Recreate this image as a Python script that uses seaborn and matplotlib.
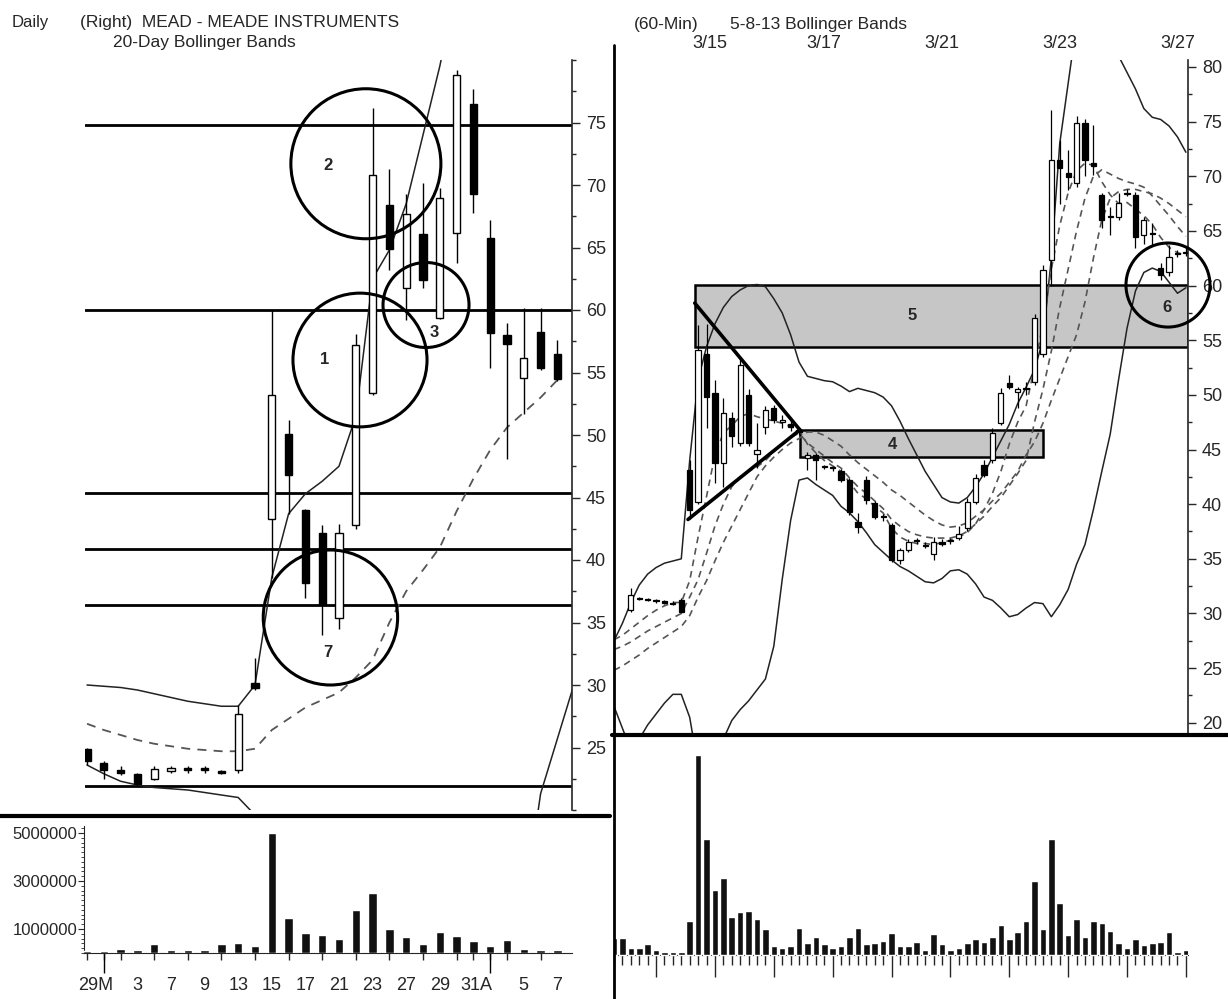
import numpy as np
import matplotlib.pyplot as plt
import seaborn as sns
from matplotlib.patches import Ellipse, Rectangle
from matplotlib.lines import Line2D
from matplotlib.ticker import MultipleLocator

sns.set_style("ticks")
plt.rcParams['font.family'] = ['Liberation Sans', 'DejaVu Sans']

nan = np.nan

# ---- Daily chart (left) ----
day_open = [24.9, 23.8, 23.2, 22.9, 22.5, 23.1, 23.4, 23.4, 23.1, 23.2, 30.2, 43.3, 50.1, 44.0, 42.2,
            35.4, 42.8, 53.4, 68.4, 61.8, 66.1, 59.4, 66.2, 76.5, 65.8, 58.0, 54.6, 58.2, 56.5]
day_high = [25.0, 23.9, 23.5, 23.0, 23.5, 23.5, 23.5, 23.5, 23.2, 28.4, 32.2, 60.0, 51.2, 44.1, 42.8,
            42.9, 58.1, 76.2, 71.3, 69.3, 70.2, 69.8, 79.2, 77.7, 67.2, 59.0, 60.2, 60.2, 57.6]
day_low = [23.6, 22.5, 22.8, 21.9, 22.4, 23.0, 23.0, 23.0, 22.9, 23.0, 29.6, 38.6, 43.7, 37.0, 34.0,
           34.5, 42.5, 53.2, 63.2, 59.2, 61.8, 59.3, 63.8, 67.8, 55.4, 48.1, 51.7, 55.2, 54.3]
day_close = [23.9, 23.2, 23.0, 22.1, 23.3, 23.4, 23.2, 23.2, 23.0, 27.7, 29.8, 53.2, 46.8, 38.2, 36.5,
             42.2, 57.2, 70.8, 64.9, 67.7, 62.4, 69.0, 78.8, 69.3, 58.2, 57.3, 56.2, 55.4, 54.5]
day_upper = [30.0, 29.9, 29.8, 29.6, 29.3, 29.0, 28.7, 28.5, 28.3, 28.3, 30.0, 38.6, 43.7, 45.3, 46.3,
             47.5, 51.5, 62.5, 64.8, 68.5, 74.0, 79.5, 86.0, 90.0, 92.0, 93.0, 93.0, 93.0, 93.0]
day_mid = [26.9, 26.4, 26.0, 25.6, 25.3, 25.1, 24.9, 24.8, 24.7, 24.7, 24.9, 26.4, 27.3, 28.2, 28.8,
           29.4, 30.6, 32.0, 35.0, 37.5, 39.2, 41.0, 43.9, 46.5, 48.8, 50.6, 51.8, 53.0, 54.4]
day_lower = [23.6, 22.9, 22.3, 22.0, 21.8, 21.7, 21.6, 21.4, 21.2, 21.0, 19.6, 12.0, 12.0, 12.0, 12.0,
             12.0, 12.0, 12.0, 12.0, 12.0, 12.0, 12.0, 12.0, 12.0, 12.0, 12.0, 12.0, 21.3, 25.7, 30.1]
day_volume = [0.08, 0.08, 0.18, 0.11, 0.36, 0.11, 0.11, 0.11, 0.36, 0.42, 0.29, 5.0, 1.45, 0.84, 0.77,
              0.6, 1.8, 2.5, 1.02, 0.67, 0.36, 0.88, 0.72, 0.49, 0.29, 0.53, 0.18, 0.14, 0.14]
day_levels = [74.8, 60.0, 45.4, 40.9, 36.4, 21.9]
day_label_pos = [0.5, 3, 5, 7, 9, 11, 13, 15, 17, 19, 21, 23.2, 26, 28]
day_labels = ['29M', '3', '7', '9', '13', '15', '17', '21', '23', '27', '29', '31A', '5', '7']
day_month_ticks = [1, 24]

# ---- 60-min chart (right) ----
hr_open = [nan, nan, 30.3, 31.4, 31.3, 31.2, 31.1, 31.0, 31.2, 43.1,
           40.2, 53.7, 50.2, 43.8, 47.9, 45.6, 50.0, 44.6, 47.1, 48.8,
           47.5, 47.3, 46.8, 44.2, 44.5, 43.5, 43.4, 43.0, 42.2, 38.4,
           42.2, 40.1, 38.9, 38.1, 34.9, 35.8, 36.7, 36.3, 35.4, 36.5,
           36.7, 36.9, 37.8, 40.2, 43.6, 44.0, 47.4, 51.1, 50.3, 50.6,
           51.2, 53.7, 62.3, 71.5, 70.3, 69.4, 74.9, 71.2, 68.3, 66.4,
           66.3, 68.5, 68.3, 64.6, 64.8, 61.6, 61.2, 63.0, 63.1]
hr_high = [nan, nan, 32.3, 31.5, 31.4, 31.3, 31.2, 31.1, 31.4, 44.0,
           56.4, 56.5, 51.4, 49.7, 48.4, 53.5, 50.5, 47.4, 49.0, 49.1,
           48.2, 47.8, 47.0, 44.8, 44.7, 43.6, 43.5, 43.2, 42.4, 39.2,
           42.6, 40.3, 39.1, 38.3, 36.0, 36.8, 36.9, 36.5, 37.0, 36.8,
           36.9, 38.0, 40.6, 42.8, 44.0, 47.0, 50.6, 51.8, 50.7, 51.2,
           57.4, 61.9, 76.1, 73.3, 72.4, 75.5, 75.2, 74.7, 68.5, 67.2,
           68.5, 68.8, 68.6, 66.3, 65.7, 62.1, 63.7, 63.3, 63.5]
hr_low = [nan, nan, 30.1, 31.2, 31.1, 31.0, 30.9, 30.8, 30.0, 38.6,
          40.0, 47.0, 41.9, 41.6, 45.2, 45.3, 45.3, 43.3, 46.4, 47.4,
          47.0, 46.7, 46.3, 43.1, 42.2, 43.2, 43.0, 42.0, 39.0, 37.4,
          40.0, 38.6, 38.5, 34.7, 34.5, 35.6, 36.4, 36.0, 34.9, 36.2,
          36.4, 36.7, 37.5, 40.0, 42.5, 43.8, 47.2, 50.5, 48.8, 50.0,
          50.9, 53.5, 60.0, 67.5, 68.7, 69.0, 70.0, 70.1, 65.3, 64.6,
          66.0, 68.2, 63.4, 63.8, 63.7, 60.5, 60.9, 62.6, 62.7]
hr_close = [nan, nan, 31.7, 31.3, 31.2, 31.1, 31.0, 30.9, 30.1, 39.5,
            54.1, 49.8, 43.8, 48.3, 46.2, 52.7, 45.6, 45.0, 48.6, 47.7,
            47.7, 47.1, 46.6, 44.5, 44.0, 43.4, 43.3, 42.2, 39.3, 37.9,
            40.4, 38.8, 38.8, 34.9, 35.8, 36.5, 36.6, 36.2, 36.5, 36.4,
            36.6, 37.3, 40.2, 42.4, 42.7, 46.5, 50.2, 50.7, 50.5, 50.5,
            57.0, 61.4, 71.5, 70.8, 69.9, 74.9, 71.5, 70.9, 66.0, 66.3,
            67.6, 68.4, 64.4, 66.0, 64.7, 61.0, 62.6, 62.9, 63.0]
hr_upper = [27.5, 29.1, 31.0, 32.6, 33.6, 34.2, 34.6, 34.8, 35.0, 44.0,
            51.4, 54.4, 56.5, 58.0, 59.0, 59.6, 60.0, 60.1, 59.9, 58.8,
            57.5, 55.5, 53.0, 51.7, 51.5, 51.3, 51.2, 50.8, 50.3, 50.6,
            50.4, 50.2, 49.8, 49.0, 47.6, 46.0, 44.5, 43.0, 41.8, 40.6,
            40.2, 40.1, 40.6, 41.6, 42.8, 44.3, 45.8, 47.3, 49.2, 50.7,
            52.3, 55.0, 62.5, 73.0, 78.5, 84.0, 87.0, 88.0, 87.0, 84.0,
            81.0, 79.5, 78.0, 76.2, 75.4, 75.2, 74.6, 73.6, 72.2]
hr_lower = [21.5, 19.5, 17.5, 18.5, 19.8, 20.8, 21.8, 22.6, 22.6, 20.5,
            16.0, 13.0, 13.0, 18.5, 20.2, 21.2, 22.0, 23.0, 24.0, 27.0,
            33.1, 38.5, 42.2, 42.4, 41.8, 41.3, 40.8, 39.8, 39.2, 38.4,
            37.4, 36.3, 35.6, 34.9, 34.3, 33.9, 33.4, 32.9, 32.8, 33.2,
            33.9, 34.0, 33.6, 32.7, 31.5, 31.2, 30.5, 29.7, 29.9, 30.5,
            31.0, 30.9, 29.7, 30.8, 32.2, 34.5, 36.3, 39.5, 43.0, 46.4,
            51.4, 56.1, 59.5, 61.2, 61.6, 61.3, 60.3, 59.3, 59.8]
hr_ma5 = [27.6, 28.0, 28.6, 29.2, 29.8, 30.3, 30.7, 31.0, 31.0, 33.0,
          37.0, 40.7, 44.5, 46.5, 47.2, 48.0, 48.3, 48.0, 47.8, 47.6,
          47.4, 47.1, 46.8, 45.5, 44.7, 44.0, 43.5, 43.0, 42.0, 41.0,
          40.5, 39.8, 39.2, 37.8, 37.0, 36.6, 36.4, 36.4, 36.3, 36.5,
          36.7, 37.0, 37.4, 38.2, 39.5, 41.0, 43.0, 45.5, 47.5, 49.0,
          52.5, 56.5, 61.5, 65.5, 68.5, 70.5, 71.2, 71.0, 69.5, 68.3,
          67.5, 67.6, 67.0, 66.4, 65.6, 64.4, 63.5, 63.0, 62.8]
hr_ma8 = [26.7, 27.0, 27.4, 27.9, 28.4, 28.8, 29.2, 29.6, 30.0, 31.5,
          33.1, 35.5, 38.0, 40.0, 41.6, 42.5, 43.0, 43.4, 44.0, 44.8,
          45.5, 46.1, 46.5, 45.6, 45.0, 44.4, 43.8, 43.3, 42.4, 41.6,
          41.0, 40.3, 39.6, 38.6, 38.0, 37.5, 37.2, 37.0, 36.9, 36.9,
          36.9, 37.1, 37.5, 38.2, 38.9, 39.8, 40.6, 41.7, 42.8, 44.0,
          47.5, 50.5, 54.0, 58.0, 61.5, 65.0, 68.0, 70.0, 70.6, 70.2,
          69.8, 69.5, 69.3, 69.0, 68.2, 67.3, 66.4, 65.4, 64.5]
hr_ma13 = [24.8, 25.2, 25.7, 26.2, 26.8, 27.3, 27.8, 28.3, 28.8, 29.8,
           31.5, 33.0, 34.8, 36.5, 38.0, 39.5, 41.0, 42.5, 43.5, 44.3,
           45.0, 45.6, 46.0, 46.6, 46.6, 46.3, 45.8, 45.3, 44.5, 43.8,
           43.2, 42.6, 42.0, 41.3, 40.8, 40.2, 39.6, 39.0, 38.5, 38.1,
           37.9, 38.0, 38.3, 38.9, 39.5, 40.3, 41.0, 42.0, 43.0, 44.5,
           45.7, 47.4, 49.5, 51.5, 53.5, 55.5, 58.5, 62.5, 66.0, 68.0,
           68.6, 68.8, 68.8, 68.6, 68.4, 68.0, 67.5, 66.9, 66.3]
hr_volume = [50, 52, 22, 22, 32, 15, 10, 10, 10, 102, 600, 348, 195, 230, 115, 128, 132, 107, 78, 27,
             22, 27, 82, 35, 53, 32, 22, 27, 53, 82, 32, 35, 43, 65, 27, 27, 40, 15, 62, 32,
             15, 22, 35, 48, 40, 55, 90, 48, 70, 102, 222, 77, 348, 155, 60, 107, 55, 102, 95, 73,
             35, 20, 48, 30, 35, 40, 70, 10, 15]
hr_dates = ['3/15', '3/17', '3/21', '3/23', '3/27']
hr_date_pos = [11.4, 24.9, 39.0, 53.0, 67.0]
hr_day_ticks = [5, 12, 19, 26, 33, 40, 47, 54, 61, 68]

W, H = 1228, 999
fig = plt.figure(figsize=(W / 100, H / 100), dpi=100)
fig.patch.set_facecolor('white')


def px_axes(l, t, r, b):
    return fig.add_axes([l / W, 1 - b / H, (r - l) / W, (b - t) / H])


def fig_line(x0, y0, x1, y1, lw):
    fig.add_artist(Line2D([x0 / W, x1 / W], [1 - y0 / H, 1 - y1 / H],
                          transform=fig.transFigure, color='black', lw=lw))


def draw_candles(ax, o, h, l, c, width, lw):
    o, h, l, c = map(np.asarray, (o, h, l, c))
    x = np.arange(len(o))
    ok = ~np.isnan(o)
    ax.vlines(x[ok], l[ok], h[ok], color='black', lw=lw, zorder=3)
    up = ok & (np.nan_to_num(c) >= np.nan_to_num(o))
    dn = ok & ~up
    body = np.maximum(np.abs(c - o), 0.1)
    low = np.minimum(o, c)
    ax.bar(x[up], body[up], width, low[up], facecolor='white', edgecolor='black', lw=lw, zorder=4)
    ax.bar(x[dn], body[dn], width, low[dn], facecolor='black', edgecolor='black', lw=lw, zorder=4)


def clean(ax):
    for s in ax.spines.values():
        s.set_visible(False)


# ---------------- left price panel ----------------
ax1 = px_axes(85, 60, 572, 810)
clean(ax1)
ax1.spines['right'].set_visible(True)
ax1.spines['right'].set_linewidth(1.2)
ax1.set_xlim(-0.12, 28.87)
ax1.set_ylim(20, 80)
for lev in day_levels:
    ax1.axhline(lev, color='black', lw=2, zorder=2)
draw_candles(ax1, day_open, day_high, day_low, day_close, 0.42, 1.0)
sns.lineplot(x=np.arange(len(day_upper)), y=day_upper, ax=ax1, color='#222222', lw=1.1)
sns.lineplot(x=np.arange(len(day_lower)), y=day_lower, ax=ax1, color='#222222', lw=1.1)
sns.lineplot(x=np.arange(len(day_mid)), y=day_mid, ax=ax1, color='#555555', lw=1.3,
             linestyle=(0, (5, 4)))
ax1.yaxis.tick_right()
ax1.set_yticks(range(25, 80, 5))
ax1.yaxis.set_minor_locator(MultipleLocator(2.5))
ax1.tick_params(axis='y', which='major', length=6, width=1, labelsize=13, pad=4)
ax1.tick_params(axis='y', which='minor', length=3, width=1)
ax1.set_xticks([])
ax1.set_xlabel('')
ax1.set_ylabel('')

for (cx, cy, w, h, lbl, lx, ly) in [(16.6, 71.7, 8.93, 12.0, '2', 14.35, 71.6),
                                     (16.25, 56.0, 7.98, 10.7, '1', 14.17, 56.0),
                                     (20.18, 60.4, 5.12, 6.8, '3', 20.65, 58.2),
                                     (14.49, 35.4, 8.0, 10.8, '7', 14.35, 32.6)]:
    ax1.add_patch(Ellipse((cx, cy), w, h, fill=False, ec='black', lw=2.2, zorder=6))
    ax1.text(lx, ly, lbl, ha='center', va='center', fontsize=12, fontweight='bold', zorder=7)

# ---------------- left volume panel ----------------
ax3 = px_axes(84, 826, 572, 953)
clean(ax3)
ax3.spines['left'].set_visible(True)
ax3.spines['bottom'].set_visible(True)
ax3.set_xlim(-0.18, 28.87)
ax3.set_ylim(0, 5.29)
ax3.bar(np.arange(len(day_volume)), day_volume, 0.5, color='#111111', zorder=3)
ax3.set_yticks([5, 3, 1], ['5000000', '3000000', '1000000'])
ax3.yaxis.set_minor_locator(MultipleLocator(0.2))
ax3.tick_params(axis='y', which='major', length=4, labelsize=12, pad=1)
ax3.tick_params(axis='y', which='minor', length=2)
ax3.set_xticks(day_label_pos, day_labels)
ax3.set_xticks(np.arange(len(day_volume)), minor=True)
ax3.tick_params(axis='x', which='major', length=0, labelsize=13, pad=17)
ax3.tick_params(axis='x', which='minor', length=5, width=1)
ax3.vlines(day_month_ticks, -0.85, 0, color='black', lw=1, clip_on=False)

# ---------------- right price panel ----------------
ax2 = px_axes(614, 60, 1188, 735)
clean(ax2)
ax2.spines['right'].set_visible(True)
ax2.spines['right'].set_linewidth(1.2)
ax2.set_xlim(0, 68.25)
ax2.set_ylim(18.88, 80.64)
ax2.add_patch(Rectangle((9.6, 54.4), 58.7, 5.65, fc='#c6c6c6', ec='black', lw=1.8, zorder=1))
ax2.add_patch(Rectangle((22.1, 44.3), 28.9, 2.5, fc='#c6c6c6', ec='black', lw=1.8, zorder=1))
xs = np.arange(len(hr_upper))
sns.lineplot(x=xs, y=hr_upper, ax=ax2, color='#222222', lw=1.1)
sns.lineplot(x=xs, y=hr_lower, ax=ax2, color='#222222', lw=1.1)
for ma in (hr_ma5, hr_ma8, hr_ma13):
    sns.lineplot(x=xs, y=ma, ax=ax2, color='#555555', lw=1.2, linestyle=(0, (4, 3)))
draw_candles(ax2, hr_open, hr_high, hr_low, hr_close, 0.62, 0.9)
ax2.plot([9.6, 22.1], [58.4, 46.8], color='black', lw=2.6, zorder=5)
ax2.plot([8.8, 22.1], [38.6, 46.8], color='black', lw=2.6, zorder=5)
ax2.text(35.4, 57.3, '5', ha='center', va='center', fontsize=12, fontweight='bold', zorder=7)
ax2.text(33.1, 45.5, '4', ha='center', va='center', fontsize=12, fontweight='bold', zorder=7)
ax2.add_patch(Ellipse((65.87, 60.05), 9.99, 7.69, fill=False, ec='black', lw=2.2, zorder=6,
                      clip_on=False))
ax2.text(65.75, 57.95, '6', ha='center', va='center', fontsize=12, fontweight='bold', zorder=7)
ax2.yaxis.tick_right()
ax2.set_yticks(range(20, 81, 5))
ax2.yaxis.set_minor_locator(MultipleLocator(2.5))
ax2.tick_params(axis='y', which='major', length=6, width=1, labelsize=13, pad=4)
ax2.tick_params(axis='y', which='minor', length=3, width=1)
ax2.set_xticks([])
ax2.set_xlabel('')
ax2.set_ylabel('')
for d, p in zip(hr_dates, hr_date_pos):
    ax2.text(p, 1 + 17 / 675, d, transform=ax2.get_xaxis_transform(), ha='center', va='center',
             fontsize=13)

# ---------------- right volume panel ----------------
ax4 = px_axes(614, 735, 1188, 999)
clean(ax4)
ax4.spines['bottom'].set_visible(True)
ax4.spines['bottom'].set_position(('data', 0))
ax4.set_xlim(0, 68.25)
ax4.set_ylim(-132, 660)
ax4.bar(np.arange(len(hr_volume)), hr_volume, 0.78, color='#111111', zorder=3)
ax4.set_yticks([])
ax4.set_xticks(hr_day_ticks, [''] * len(hr_day_ticks))
ax4.set_xticks(np.arange(len(hr_volume)), minor=True)
ax4.tick_params(axis='x', which='major', length=16, width=1)
ax4.tick_params(axis='x', which='minor', length=7, width=1)

# ---------------- frame lines and titles ----------------
fig_line(0, 816, 610, 816, 3)
fig_line(612, 735, 1228, 735, 3)
fig_line(614, 45, 614, 999, 2)

fig.text(12 / W, 1 - 23 / H, 'Daily', ha='left', va='center', fontsize=12)
fig.text(80 / W, 1 - 23 / H, '(Right)  MEAD - MEADE INSTRUMENTS', ha='left', va='center', fontsize=12.5)
fig.text(113 / W, 1 - 42 / H, '20-Day Bollinger Bands', ha='left', va='center', fontsize=12.5)
fig.text(634 / W, 1 - 25 / H, '(60-Min)', ha='left', va='center', fontsize=12.5)
fig.text(730 / W, 1 - 25 / H, '5-8-13 Bollinger Bands', ha='left', va='center', fontsize=12.5)

fig.savefig('out.png', dpi=100, facecolor='white')
